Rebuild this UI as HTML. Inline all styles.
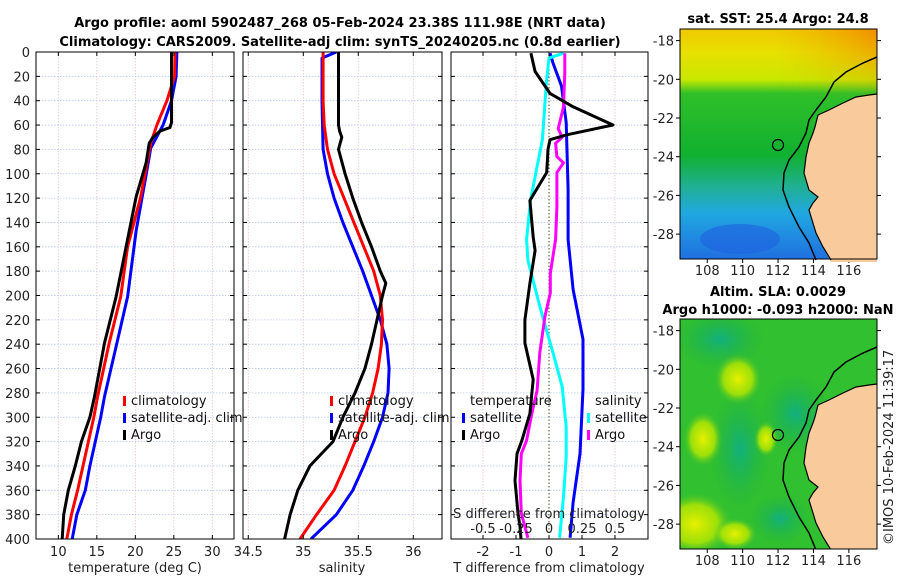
<!DOCTYPE html>
<html><head><meta charset="utf-8">
<style>
body{margin:0;background:#fff}
svg{display:block;font-family:"DejaVu Sans","Liberation Sans",sans-serif}
.tk{font-size:13px;fill:#222}
.tt{font-size:13px;font-weight:bold;fill:#000}
.lg{font-size:13px;fill:#111}
</style></head>
<body>
<svg id="fig" width="900" height="580" viewBox="0 0 900 580">
<defs>
<linearGradient id="sstGrad" x1="0" y1="0" x2="0" y2="1">
<stop offset="0" stop-color="#f0c800"/><stop offset="0.1" stop-color="#e8e000"/>
<stop offset="0.22" stop-color="#c8e800"/><stop offset="0.28" stop-color="#30c028"/>
<stop offset="0.55" stop-color="#10b030"/><stop offset="0.68" stop-color="#20b090"/>
<stop offset="0.8" stop-color="#20a8e0"/><stop offset="1" stop-color="#2070e0"/>
</linearGradient>
<linearGradient id="sstOr" x1="0" y1="0" x2="1" y2="0">
<stop offset="0.5" stop-color="#f0a000" stop-opacity="0"/><stop offset="1" stop-color="#f08000" stop-opacity="0.8"/>
</linearGradient>
<linearGradient id="sstOrV" x1="0" y1="0" x2="0" y2="1">
<stop offset="0" stop-color="#fff" stop-opacity="1"/><stop offset="1" stop-color="#fff" stop-opacity="0"/>
</linearGradient>
<mask id="orMask"><rect width="197" height="70" fill="url(#sstOrV)"/></mask>
<radialGradient id="yb"><stop offset="0" stop-color="#e8f000"/><stop offset="0.6" stop-color="#b8e800" stop-opacity="0.8"/><stop offset="1" stop-color="#40c030" stop-opacity="0"/></radialGradient>
<radialGradient id="tb"><stop offset="0" stop-color="#10b080"/><stop offset="1" stop-color="#20b040" stop-opacity="0"/></radialGradient>
<clipPath id="c1"><rect x="36" y="52" width="198" height="487"/></clipPath>
<clipPath id="c2"><rect x="243" y="52" width="199" height="487"/></clipPath>
<clipPath id="c3"><rect x="451" y="52" width="197" height="487"/></clipPath>
<clipPath id="m1"><rect x="0" y="0" width="197" height="230"/></clipPath>
</defs>

<text class="tt" x="340" y="27" text-anchor="middle">Argo profile: aoml 5902487_268 05-Feb-2024 23.38S 111.98E (NRT data)</text>
<text class="tt" x="340" y="46" text-anchor="middle">Climatology: CARS2009. Satellite-adj clim: synTS_20240205.nc (0.8d earlier)</text>

<g id="grids"></g>
<g id="lines"></g>
<g id="axes"></g>

<g>
<rect x="123" y="396" width="3" height="10" fill="#f00"/><text class="lg" x="131" y="405">climatology</text>
<rect x="123" y="413" width="3" height="10" fill="#00f"/><text class="lg" x="131" y="422">satellite-adj. clim</text>
<rect x="123" y="430" width="3" height="10" fill="#000"/><text class="lg" x="131" y="439">Argo</text>
</g>
<g>
<rect x="330" y="396" width="3" height="10" fill="#f00"/><text class="lg" x="338" y="405">climatology</text>
<rect x="330" y="413" width="3" height="10" fill="#00f"/><text class="lg" x="338" y="422">satellite-adj. clim</text>
<rect x="330" y="430" width="3" height="10" fill="#000"/><text class="lg" x="338" y="439">Argo</text>
</g>
<g>
<text class="lg" x="470" y="405">temperature</text>
<rect x="462" y="413" width="3" height="10" fill="#00f"/><text class="lg" x="470" y="422">satellite</text>
<rect x="462" y="430" width="3" height="10" fill="#000"/><text class="lg" x="470" y="439">Argo</text>
<text class="lg" x="595" y="405">salinity</text>
<rect x="587" y="413" width="3" height="10" fill="#0ff"/><text class="lg" x="595" y="422">satellite</text>
<rect x="587" y="430" width="3" height="10" fill="#f0f"/><text class="lg" x="595" y="439">Argo</text>
</g>

<text class="tt" x="778" y="23" text-anchor="middle">sat. SST: 25.4 Argo: 24.8</text>
<g transform="translate(680,29)">
<g clip-path="url(#m1)">
<rect width="197" height="230" fill="url(#sstGrad)"/>
<rect width="197" height="70" fill="url(#sstOr)" mask="url(#orMask)"/>
<ellipse cx="60" cy="210" rx="40" ry="15" fill="#2060e0" opacity="0.6"/>
<use href="#land"/>
</g>
<g id="mapdeco">
<path id="land" d="M197,65 L189,66 L176,68 L163,74 L149,81 L138,86 L135,98 L133,104 L129,114 L126,128 L124,144 L129,161 L138,168 L133,174 L129,181 L136,204 L143,218 L151,233 L197,233 Z" fill="#f9cb9c"/>
<path d="M197,65 L189,66 L176,68 L163,74 L149,81 L138,86 L135,98 L133,104 L129,114 L126,128 L124,144 L129,161 L138,168 L133,174 L129,181 L136,204 L143,218 L151,231" fill="none" stroke="#000" stroke-width="1.2"/>
<path d="M197,28 L183,34 L166,43 L154,53 L146,68 L136,81 L129,91 L126,104 L119,118 L109,131 L104,144 L103,161 L109,178 L119,198 L129,214 L136,231" fill="none" stroke="#000" stroke-width="1.5"/>
<circle cx="98" cy="116" r="5.5" fill="none" stroke="#000" stroke-width="1.2"/>
</g>
<rect width="197" height="230" fill="none" stroke="#000" stroke-width="1"/>
</g>

<text class="tt" x="778" y="296" text-anchor="middle">Altim. SLA: 0.0029</text>
<text class="tt" x="778" y="314" text-anchor="middle">Argo h1000: -0.093 h2000: NaN</text>
<g transform="translate(680,319)">
<g clip-path="url(#m1)">
<rect width="197" height="230" fill="#30c030"/>
<ellipse cx="40" cy="20" rx="45" ry="30" fill="url(#tb)"/>
<ellipse cx="115" cy="95" rx="35" ry="40" fill="url(#tb)"/>
<ellipse cx="60" cy="130" rx="30" ry="60" fill="url(#tb)"/>
<ellipse cx="100" cy="200" rx="30" ry="25" fill="url(#tb)"/>
<ellipse cx="58" cy="60" rx="24" ry="26" fill="url(#yb)"/>
<ellipse cx="23" cy="120" rx="20" ry="28" fill="url(#yb)"/>
<ellipse cx="86" cy="120" rx="12" ry="18" fill="url(#yb)"/>
<ellipse cx="15" cy="205" rx="38" ry="32" fill="url(#yb)"/>
<ellipse cx="55" cy="215" rx="22" ry="16" fill="url(#yb)"/>
<use href="#mapdeco"/>
</g>
<rect width="197" height="230" fill="none" stroke="#000" stroke-width="1"/>
</g>
<text class="tk" transform="translate(893,545) rotate(-90)">©IMOS 10-Feb-2024 11:39:17</text>

<script>
// ---- data ----
const tDepth = [0,20,40,58,62,65,70,75,91,119,160,201,239,283,300,320,340,360,380,400];
const tArgo  = [24.7,24.7,24.7,24.7,24.5,23.2,22.3,21.8,21.4,20.1,18.8,17.5,16.0,14.7,14.1,13.0,12.2,11.3,10.7,10.5];
const tClimDepth = [0,20,40,60,75,119,160,201,239,283,300,320,340,360,380,400];
const tClim  = [25.15,25.1,24.1,22.8,22.0,20.7,19.0,18.1,16.6,15.1,14.6,13.9,13.2,12.5,11.7,11.1];
const tSatDepth = [0,20,40,60,79,101,147,201,242,283,300,320,340,360,380,400];
const tSat   = [25.4,25.3,24.7,23.6,22.0,21.4,20.1,19.0,17.5,16.0,15.5,14.8,14.1,13.5,12.4,11.8];
const cDepth = [0,20,40,60,80,100,120,140,160,180,200,220,240,260,280,300,320,340,360,380,400];
const sArgoDepth = [0,60,65,70,80,100,120,140,160,180,190,200,220,240,260,280,300,320,340,360,380,400];
const sArgo  = [35.32,35.32,35.33,35.35,35.32,35.38,35.45,35.53,35.62,35.70,35.75,35.72,35.67,35.62,35.56,35.47,35.36,35.27,35.06,34.95,34.88,34.83];
const sClim  = [35.18,35.18,35.18,35.19,35.22,35.28,35.37,35.46,35.55,35.64,35.70,35.72,35.71,35.68,35.63,35.56,35.47,35.38,35.28,35.12,34.97];
const sSatDepth = [0,5,40,80,100,120,140,160,180,200,220,240,260,280,300,320,340,360,380,400];
const sSat   = [35.30,35.17,35.17,35.18,35.22,35.28,35.36,35.45,35.54,35.62,35.70,35.76,35.78,35.77,35.72,35.64,35.55,35.45,35.30,35.07];
const dTArgoDepth = [1,16,34,45,60,68,72,80,99,122,152,163,190,220,239,269,297,319,330,352,379,390,400];
const dTArgo = [-0.55,-0.42,0.03,0.73,1.94,0.54,0.03,-0.03,-0.07,-0.58,-0.48,-0.42,-0.58,-0.73,-0.73,-0.48,-0.58,-0.82,-0.97,-1.03,-0.94,-0.88,-0.85];
const dTSatDepth = [1,9,28,58,113,154,195,236,277,330,370,399];
const dTSat  = [0.03,0.12,0.38,0.52,0.58,0.58,0.73,1.03,1.03,0.94,0.73,0.64];
const dSSatDepth = [1,5,25,72,94,122,154,171,209,247,275,308,333,365,399];
const dSSat  = [0.11,0,-0.02,-0.05,-0.09,-0.14,-0.17,-0.16,-0.07,0.03,0.10,0.13,0.13,0.11,0.08];
const dSArgoDepth = [1,17,45,63,70,75,86,91,99,127,154,182,198,217,247,278,297,319,330,352,379,399];
const dSArgo = [0.12,0.12,0.11,0.07,0.10,0.05,0.06,0.11,0.06,0.06,0.05,0.01,0.01,-0.03,-0.07,-0.09,-0.13,-0.17,-0.21,-0.22,-0.21,-0.16];
const depthTicks = [0,20,40,60,80,100,120,140,160,180,200,220,240,260,280,300,320,340,360,380,400];
const tTicks = [10,15,20,25,30];
const sTicks = [34.5,35,35.5,36];
const dTTicks = [-2,-1,0,1,2];
const dSTicks = [-0.5,-0.25,0,0.25,0.5];
const dSLabels = ["-0.5","-0.25","0","0.25","0.5"];
const lonTicks = [108,110,112,114,116];
const latTicks = [-18,-20,-22,-24,-26,-28];

// ---- scales ----
const yD = d => 52 + d*(487/400);
const xT = v => 36 + (v-7.1)*7.7;
const xS = v => 243 + (v-34.452)*110;
const xDT = v => 549 + v*33;
const xDS = v => 549 + v*132;
const mLon = v => 680.7 + (v-106.5)*17.7;
const mLat = v => 29 + (-17.4 - v)*19.35;

const NS='http://www.w3.org/2000/svg';
const mk=(tag,attrs,parent)=>{const e=document.createElementNS(NS,tag);for(const k in attrs)e.setAttribute(k,attrs[k]);parent.appendChild(e);return e;};
const grids=document.getElementById('grids'), lines=document.getElementById('lines'), axes=document.getElementById('axes');
const panels=[{x0:36,x1:234,sc:xT,ticks:tTicks,name:'temperature'},{x0:243,x1:442,sc:xS,ticks:sTicks,name:'salinity'},{x0:451,x1:648,sc:xDT,ticks:dTTicks,name:'difference'}];

panels.forEach((p,i)=>{
  depthTicks.forEach(d=>{
    const g=mk('line',{x1:p.x0,x2:p.x1,y1:yD(d),y2:yD(d),stroke:'#b8c4f0','stroke-width':0.8,'stroke-dasharray':'1.5,1.5'},grids);
    
    
    mk('line',{x1:p.x0,x2:p.x0+4,y1:yD(d),y2:yD(d),stroke:'#000'},axes);
    mk('line',{x1:p.x1-4,x2:p.x1,y1:yD(d),y2:yD(d),stroke:'#000'},axes);
    if(i===0){const t=mk('text',{x:30,y:yD(d)+5,'text-anchor':'end',class:'tk'},axes);t.textContent=d;
      
      }
  });
  p.ticks.forEach(v=>{
    const x=p.sc(v);
    const g=mk('line',{x1:x,x2:x,y1:52,y2:539,stroke:i===2&&v===0?'none':'#e8c0c8','stroke-width':0.8,'stroke-dasharray':'1.5,1.5'},grids);
    
    
    mk('line',{x1:x,x2:x,y1:539,y2:535,stroke:'#000'},axes);
    mk('line',{x1:x,x2:x,y1:52,y2:56,stroke:'#000'},axes);
    const t=mk('text',{x:x,y:556,'text-anchor':'middle',class:'tk'},axes);t.textContent=v;
    
    
  });
  const r=mk('rect',{x:p.x0,y:52,width:p.x1-p.x0,height:487,fill:'none',stroke:'#000','stroke-width':1},axes);
  
  
});
mk('line',{x1:xDT(0),x2:xDT(0),y1:52,y2:539,stroke:'#385020','stroke-width':1,'stroke-dasharray':'1.5,2'},grids);
dSTicks.forEach((v,i)=>{
  const t=mk('text',{x:xDS(v),y:533,'text-anchor':'middle',class:'tk'},axes);t.textContent=dSLabels[i];
  
  
});
[['temperature (deg C)',135,'temperature-axis-title'],['salinity',342,'salinity-axis-title'],['T difference from climatology',549,'t-difference-axis-title']].forEach(a=>{
  const t=mk('text',{x:a[1],y:572,'text-anchor':'middle',class:'tk'},axes);t.textContent=a[0];
  
  
});
{const t=mk('text',{x:549,y:518,'text-anchor':'middle',class:'tk'},axes);t.textContent='S difference from climatology';

}

function line(depths,vals,sc,color,clip,name){
  const pts=depths.map((d,i)=>sc(vals[i]).toFixed(1)+','+yD(d).toFixed(1)).join(' ');
  const e=mk('polyline',{points:pts,fill:'none',stroke:color,'stroke-width':3,'stroke-linejoin':'round','clip-path':'url(#'+clip+')'},lines);
  
  
}
line(tSatDepth,tSat,xT,'#00f','c1','temperature-satellite-line');
line(tClimDepth,tClim,xT,'#f00','c1','temperature-climatology-line');
line(tDepth,tArgo,xT,'#000','c1','temperature-argo-line');
line(sSatDepth,sSat,xS,'#00f','c2','salinity-satellite-line');
line(cDepth,sClim,xS,'#f00','c2','salinity-climatology-line');
line(sArgoDepth,sArgo,xS,'#000','c2','salinity-argo-line');
line(dTSatDepth,dTSat,xDT,'#00f','c3','t-diff-satellite-line');
line(dSSatDepth,dSSat,xDS,'#0ff','c3','s-diff-satellite-line');
line(dSArgoDepth,dSArgo,xDS,'#f0f','c3','s-diff-argo-line');
line(dTArgoDepth,dTArgo,xDT,'#000','c3','t-diff-argo-line');

[[0,275],[290,565]].forEach(([off,ly])=>{
  lonTicks.forEach(v=>{const x=mLon(v);
    mk('line',{x1:x,x2:x,y1:259+off,y2:263+off,stroke:'#000'},axes);
    const t=mk('text',{x:x,y:ly,'text-anchor':'middle',class:'tk'},axes);t.textContent=v;
    
    });
  latTicks.forEach(v=>{const y=mLat(v)+off;
    mk('line',{x1:877,x2:881,y1:y,y2:y,stroke:'#000'},axes);
    mk('line',{x1:676,x2:680,y1:y,y2:y,stroke:'#000'},axes);
    const t=mk('text',{x:674,y:y+5,'text-anchor':'end',class:'tk'},axes);t.textContent=v;
    
    });
});
</script>
</svg>
</body></html>
